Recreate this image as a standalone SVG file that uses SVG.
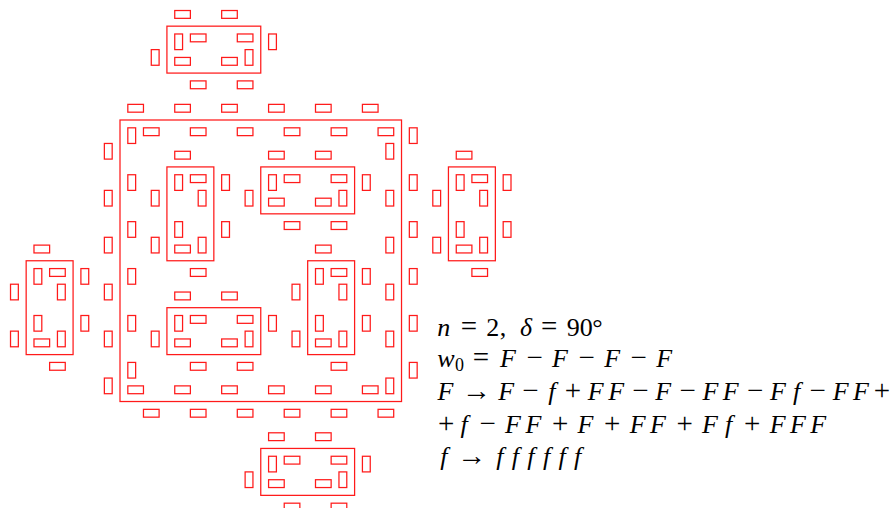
<svg xmlns="http://www.w3.org/2000/svg" width="896" height="508" viewBox="0 0 896 508">
<style>
.d rect{fill:none;stroke:#ff1a1a;stroke-width:0.16}
.t{font-family:"Liberation Serif","Times New Roman",serif;font-size:26px;fill:#000;text-anchor:middle}
.i{font-style:italic}
.o{font-size:29px}
</style>
<g class="d" transform="translate(120,120) scale(7.82)">
<g id="outline">
<rect x="0" y="0" width="36" height="36"/>
</g>
<g id="square-edges">
<rect x="1" y="-2" width="2" height="1"/><rect x="7" y="-2" width="2" height="1"/><rect x="13" y="-2" width="2" height="1"/><rect x="19" y="-2" width="2" height="1"/><rect x="25" y="-2" width="2" height="1"/><rect x="31" y="-2" width="2" height="1"/>
<rect x="3" y="1" width="2" height="1"/><rect x="9" y="1" width="2" height="1"/><rect x="15" y="1" width="2" height="1"/><rect x="21" y="1" width="2" height="1"/><rect x="27" y="1" width="2" height="1"/><rect x="33" y="1" width="2" height="1"/>
<rect x="1" y="34" width="2" height="1"/><rect x="7" y="34" width="2" height="1"/><rect x="13" y="34" width="2" height="1"/><rect x="19" y="34" width="2" height="1"/><rect x="25" y="34" width="2" height="1"/><rect x="31" y="34" width="2" height="1"/>
<rect x="3" y="37" width="2" height="1"/><rect x="9" y="37" width="2" height="1"/><rect x="15" y="37" width="2" height="1"/><rect x="21" y="37" width="2" height="1"/><rect x="27" y="37" width="2" height="1"/><rect x="33" y="37" width="2" height="1"/>
<rect x="1" y="1" width="1" height="2"/><rect x="1" y="7" width="1" height="2"/><rect x="1" y="13" width="1" height="2"/><rect x="1" y="19" width="1" height="2"/><rect x="1" y="25" width="1" height="2"/><rect x="1" y="31" width="1" height="2"/>
<rect x="-2" y="3" width="1" height="2"/><rect x="-2" y="9" width="1" height="2"/><rect x="-2" y="15" width="1" height="2"/><rect x="-2" y="21" width="1" height="2"/><rect x="-2" y="27" width="1" height="2"/><rect x="-2" y="33" width="1" height="2"/>
<rect x="37" y="1" width="1" height="2"/><rect x="37" y="7" width="1" height="2"/><rect x="37" y="13" width="1" height="2"/><rect x="37" y="19" width="1" height="2"/><rect x="37" y="25" width="1" height="2"/><rect x="37" y="31" width="1" height="2"/>
<rect x="34" y="3" width="1" height="2"/><rect x="34" y="9" width="1" height="2"/><rect x="34" y="15" width="1" height="2"/><rect x="34" y="21" width="1" height="2"/><rect x="34" y="27" width="1" height="2"/><rect x="34" y="33" width="1" height="2"/>
</g>
<g id="island-top">
<rect x="6" y="-12" width="12" height="6"/>
<rect x="7" y="-14" width="2" height="1"/><rect x="13" y="-14" width="2" height="1"/><rect x="9" y="-11" width="2" height="1"/><rect x="15" y="-11" width="2" height="1"/>
<rect x="7" y="-8" width="2" height="1"/><rect x="13" y="-8" width="2" height="1"/><rect x="9" y="-5" width="2" height="1"/><rect x="15" y="-5" width="2" height="1"/>
<rect x="7" y="-11" width="1" height="2"/><rect x="4" y="-9" width="1" height="2"/><rect x="19" y="-11" width="1" height="2"/><rect x="16" y="-9" width="1" height="2"/>
</g>
<g id="lake-top">
<rect x="18" y="6" width="12" height="6"/>
<rect x="19" y="4" width="2" height="1"/><rect x="25" y="4" width="2" height="1"/><rect x="21" y="7" width="2" height="1"/><rect x="27" y="7" width="2" height="1"/>
<rect x="19" y="10" width="2" height="1"/><rect x="25" y="10" width="2" height="1"/><rect x="21" y="13" width="2" height="1"/><rect x="27" y="13" width="2" height="1"/>
<rect x="19" y="7" width="1" height="2"/><rect x="16" y="9" width="1" height="2"/><rect x="31" y="7" width="1" height="2"/><rect x="28" y="9" width="1" height="2"/>
</g>
<g id="island-right">
<rect x="42" y="6" width="6" height="12"/>
<rect x="43" y="4" width="2" height="1"/><rect x="45" y="7" width="2" height="1"/><rect x="43" y="16" width="2" height="1"/><rect x="45" y="19" width="2" height="1"/>
<rect x="43" y="7" width="1" height="2"/><rect x="43" y="13" width="1" height="2"/><rect x="40" y="9" width="1" height="2"/><rect x="40" y="15" width="1" height="2"/>
<rect x="49" y="7" width="1" height="2"/><rect x="49" y="13" width="1" height="2"/><rect x="46" y="9" width="1" height="2"/><rect x="46" y="15" width="1" height="2"/>
</g>
<g id="lake-right">
<rect x="24" y="18" width="6" height="12"/>
<rect x="25" y="16" width="2" height="1"/><rect x="27" y="19" width="2" height="1"/><rect x="25" y="28" width="2" height="1"/><rect x="27" y="31" width="2" height="1"/>
<rect x="25" y="19" width="1" height="2"/><rect x="25" y="25" width="1" height="2"/><rect x="22" y="21" width="1" height="2"/><rect x="22" y="27" width="1" height="2"/>
<rect x="31" y="19" width="1" height="2"/><rect x="31" y="25" width="1" height="2"/><rect x="28" y="21" width="1" height="2"/><rect x="28" y="27" width="1" height="2"/>
</g>
<g id="island-bottom">
<rect x="18" y="42" width="12" height="6"/>
<rect x="19" y="40" width="2" height="1"/><rect x="25" y="40" width="2" height="1"/><rect x="21" y="43" width="2" height="1"/><rect x="27" y="43" width="2" height="1"/>
<rect x="19" y="46" width="2" height="1"/><rect x="25" y="46" width="2" height="1"/><rect x="21" y="49" width="2" height="1"/><rect x="27" y="49" width="2" height="1"/>
<rect x="19" y="43" width="1" height="2"/><rect x="16" y="45" width="1" height="2"/><rect x="31" y="43" width="1" height="2"/><rect x="28" y="45" width="1" height="2"/>
</g>
<g id="lake-bottom">
<rect x="6" y="24" width="12" height="6"/>
<rect x="7" y="22" width="2" height="1"/><rect x="13" y="22" width="2" height="1"/><rect x="9" y="25" width="2" height="1"/><rect x="15" y="25" width="2" height="1"/>
<rect x="7" y="28" width="2" height="1"/><rect x="13" y="28" width="2" height="1"/><rect x="9" y="31" width="2" height="1"/><rect x="15" y="31" width="2" height="1"/>
<rect x="7" y="25" width="1" height="2"/><rect x="4" y="27" width="1" height="2"/><rect x="19" y="25" width="1" height="2"/><rect x="16" y="27" width="1" height="2"/>
</g>
<g id="island-left">
<rect x="-12" y="18" width="6" height="12"/>
<rect x="-11" y="16" width="2" height="1"/><rect x="-9" y="19" width="2" height="1"/><rect x="-11" y="28" width="2" height="1"/><rect x="-9" y="31" width="2" height="1"/>
<rect x="-11" y="19" width="1" height="2"/><rect x="-11" y="25" width="1" height="2"/><rect x="-14" y="21" width="1" height="2"/><rect x="-14" y="27" width="1" height="2"/>
<rect x="-5" y="19" width="1" height="2"/><rect x="-5" y="25" width="1" height="2"/><rect x="-8" y="21" width="1" height="2"/><rect x="-8" y="27" width="1" height="2"/>
</g>
<g id="lake-left">
<rect x="6" y="6" width="6" height="12"/>
<rect x="7" y="4" width="2" height="1"/><rect x="9" y="7" width="2" height="1"/><rect x="7" y="16" width="2" height="1"/><rect x="9" y="19" width="2" height="1"/>
<rect x="7" y="7" width="1" height="2"/><rect x="7" y="13" width="1" height="2"/><rect x="4" y="9" width="1" height="2"/><rect x="4" y="15" width="1" height="2"/>
<rect x="13" y="7" width="1" height="2"/><rect x="13" y="13" width="1" height="2"/><rect x="10" y="9" width="1" height="2"/><rect x="10" y="15" width="1" height="2"/>
</g>
</g>
<g id="caption" class="t">
<text y="336"><tspan x="443.8" class="i">n</tspan><tspan x="468.9" class="o">=</tspan><tspan x="492.8">2</tspan><tspan x="502.9">,</tspan><tspan x="526" class="i">δ</tspan><tspan x="549.3" class="o">=</tspan><tspan x="573.2">9</tspan><tspan x="586.2">0</tspan><tspan x="597.5">°</tspan></text>
<text y="367"><tspan x="445.8" class="i">w</tspan><tspan x="459.4" y="371" font-size="18">0</tspan><tspan x="481" y="367" class="o">=</tspan><tspan x="507.9" class="i">F</tspan><tspan x="534.6" class="o">−</tspan><tspan x="560" class="i">F</tspan><tspan x="586.7" class="o">−</tspan><tspan x="612.1" class="i">F</tspan><tspan x="638.8" class="o">−</tspan><tspan x="664.2" class="i">F</tspan></text>
<text y="400"><tspan x="445.5" class="i">F</tspan><tspan x="476.6" class="o">→</tspan><tspan x="506.3" class="i">F</tspan><tspan x="530.5" class="o">−</tspan><tspan x="551.8" class="i">f</tspan><tspan x="572.9" class="o">+</tspan><tspan x="595.8" class="i">F</tspan><tspan x="616.2" class="i">F</tspan><tspan x="640.4" class="o">−</tspan><tspan x="663.3" class="i">F</tspan><tspan x="687.6" class="o">−</tspan><tspan x="710.5" class="i">F</tspan><tspan x="730.8" class="i">F</tspan><tspan x="755.1" class="o">−</tspan><tspan x="778" class="i">F</tspan><tspan x="796.6" class="i">f</tspan><tspan x="817.8" class="o">−</tspan><tspan x="840.7" class="i">F</tspan><tspan x="861" class="i">F</tspan><tspan x="882" class="o">+</tspan></text>
<text y="433"><tspan x="446.1" class="o">+</tspan><tspan x="464" class="i">f</tspan><tspan x="487.7" class="o">−</tspan><tspan x="513" class="i">F</tspan><tspan x="533.4" class="i">F</tspan><tspan x="560.1" class="o">+</tspan><tspan x="585.5" class="i">F</tspan><tspan x="612.2" class="o">+</tspan><tspan x="637.6" class="i">F</tspan><tspan x="657.9" class="i">F</tspan><tspan x="684.6" class="o">+</tspan><tspan x="710" class="i">F</tspan><tspan x="728.6" class="i">f</tspan><tspan x="752.3" class="o">+</tspan><tspan x="777.7" class="i">F</tspan><tspan x="798" class="i">F</tspan><tspan x="818.3" class="i">F</tspan></text>
<text y="465"><tspan x="443.8" class="i">f</tspan><tspan x="471.8" class="o">→</tspan><tspan x="499.8" class="i">f</tspan><tspan x="515.4" class="i">f</tspan><tspan x="530.9" class="i">f</tspan><tspan x="546.5" class="i">f</tspan><tspan x="562" class="i">f</tspan><tspan x="577.6" class="i">f</tspan></text>
</g>
</svg>
